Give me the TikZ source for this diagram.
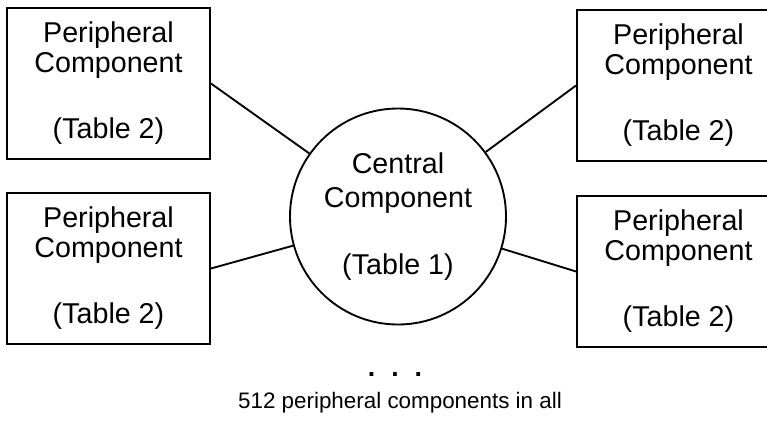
\documentclass[tikz,border=0pt]{standalone}
\usepackage{fontspec}
\setmainfont{Liberation Sans}
\usepackage{tikz}
\usetikzlibrary{shapes,arrows}

\newcommand{\pcfont}{\fontsize{21.5}{22}\selectfont}
\newcommand{\ccfont}{\fontsize{21.5}{25.5}\selectfont}
\newcommand{\notefont}{\fontsize{16.8}{18}\selectfont}

\tikzset{
  periph/.style={draw, rectangle, line width=1.4pt, minimum width=152.25pt,
    minimum height=113.25pt, inner sep=0pt, align=center, font=\pcfont},
  central/.style={draw, circle, line width=1.4pt, minimum size=162pt,
    inner sep=0pt, align=center, font=\ccfont},
  link/.style={line width=1.4pt}
}

\begin{document}
\begin{tikzpicture}[x=0.75pt,y=0.75pt,yscale=-1,xscale=1]
    \useasboundingbox (0,0) rectangle (767,422);

    %Central component
    \node [central] (cc) at (398,216.5) {Central\\Component\\[24.5pt](Table 1)};

    %Peripheral components
    \node [periph] (tl) at (108.5,83.5) {Peripheral\\Component\\[28pt](Table 2)};
    \node [periph] (bl) at (108.5,268.5) {Peripheral\\Component\\[28pt](Table 2)};
    \node [periph] (tr) at (678.5,85.5) {Peripheral\\Component\\[28pt](Table 2)};
    \node [periph] (br) at (678.5,271.5) {Peripheral\\Component\\[28pt](Table 2)};

    %Links
    \draw [link] (tl.east) -- (cc);
    \draw [link] (bl.east) -- (cc);
    \draw [link] (tr.west) -- (cc);
    \draw [link] (br.west) -- (cc);

    % Text Node
    \node [anchor=base, font=\fontsize{20}{20}\selectfont\bfseries] (dots) at (395,376) {.\hspace{12pt}.\hspace{12pt}.};
    % Text Node
    \node [anchor=base, font=\notefont] (note) at (400,408) {512 peripheral components in all};

\end{tikzpicture}
\end{document}
